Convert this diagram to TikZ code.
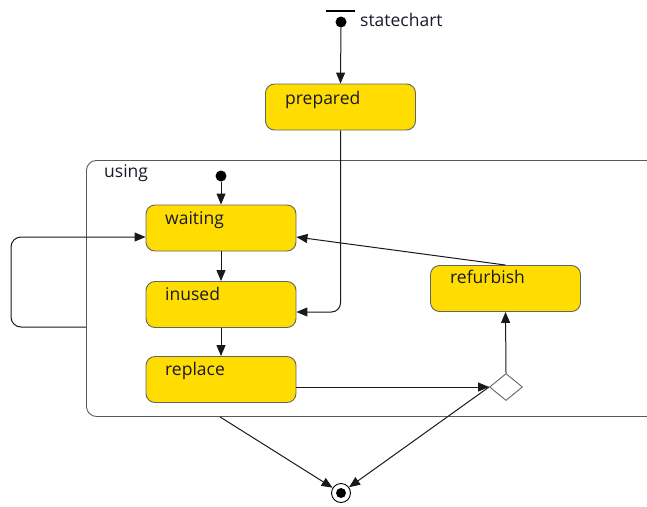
\documentclass[tikz,border=0pt]{standalone}
\usepackage{fontspec}
\setmainfont{Open Sans}
\usetikzlibrary{arrows.meta,shapes.geometric}
\definecolor{styel}{RGB}{255,221,0}
\definecolor{stborder}{RGB}{100,100,100}
\definecolor{txtdark}{RGB}{25,25,45}
\begin{document}
\begin{tikzpicture}[x=1pt,y=-1pt,
  stbox/.style={draw=stborder, fill=styel, rounded corners=9pt, minimum width=150pt, minimum height=46pt, inner sep=0pt, line width=0.9pt},
  lbl/.style={anchor=base west, inner sep=0pt, font=\fontsize{17.5}{20}\selectfont, text=txtdark},
  arr/.style={-{Triangle[length=11pt,width=9pt]}, line width=1pt, black!90},
  initdot/.style={circle, fill=black, minimum size=11pt, inner sep=0pt},
  choice/.style={diamond, draw=stborder, fill=white, minimum width=33pt, minimum height=27pt, inner sep=0pt, line width=0.9pt},
  container/.style={draw=black!65, rounded corners=10pt, line width=0.9pt, anchor=north west, minimum width=600pt, minimum height=256pt, inner sep=0pt}
]
\useasboundingbox (0,0) rectangle (647,506);

% top initial
\draw[line width=2.8pt, black] (326,11) -- (355,11);
\node[initdot] (init) at (341,22) {};
\node[lbl] (tchart) at (360,26) {statechart};

% prepared
\node[stbox] (prep) at (340.5,107) {};
\node[lbl] (tprep) at (285,104) {prepared};

% using container
\node[container] (using) at (86,160) {};
\node[lbl] (tusing) at (104,177) {using};

% inner initial
\node[initdot] (init2) at (221,176) {};

% states
\node[stbox] (waiting) at (221,228) {};
\node[lbl] (twait) at (165,224) {waiting};
\node[stbox] (inused) at (221,304.5) {};
\node[lbl] (tinused) at (165,300) {inused};
\node[stbox] (replace) at (221,379.5) {};
\node[lbl] (trepl) at (165,375) {replace};
\node[stbox] (refurb) at (505.5,288.5) {};
\node[lbl] (trefurb) at (450,283) {refurbish};

% choice
\node[choice] (dia) at (506,387) {};

% final
\node[circle, draw=black, fill=white, minimum size=19pt, inner sep=0pt, line width=0.9pt] (fin) at (341,493) {};
\node[circle, fill=black, minimum size=10pt, inner sep=0pt] (fincore) at (fin.center) {};

% connectors
\draw[arr] (init) -- (prep.north);
\draw[arr, rounded corners=9pt] (prep.south) -- (prep.south |- 0,312) -- (inused.east |- 0,312);
\draw[arr] (init2) -- (waiting.north);
\draw[arr] (waiting) -- (inused);
\draw[arr] (inused) -- (replace);
\draw[arr] (replace.east |- 0,387) -- (dia.west);
\draw[arr] (dia.north) -- (refurb.south);
\draw[arr] (refurb.north) -- (waiting.east |- 0,237);
\draw[arr, rounded corners=10pt] (using.west |- 0,327) -- (11,327) -- (11,237) -- (waiting.west |- 0,237);
\draw[arr] (using.south -| 220,0) -- (fin);
\draw[arr] (dia.west) -- (fin);
\end{tikzpicture}
\end{document}
